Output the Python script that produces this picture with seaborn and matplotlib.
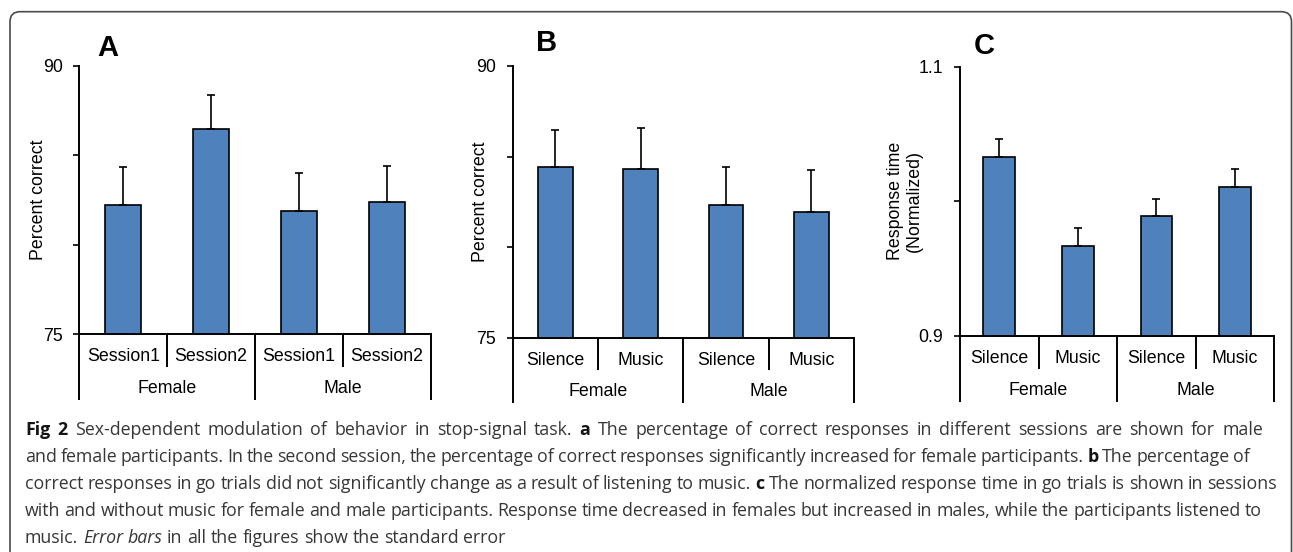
import numpy as np
import pandas as pd
import matplotlib
matplotlib.use("Agg")
import matplotlib.pyplot as plt
import matplotlib.transforms as mtransforms
from matplotlib.patches import FancyBboxPatch
import seaborn as sns

# ---- data -------------------------------------------------------------
sexes = ["Female", "Female", "Male", "Male"]
sessions = ["Session1", "Session2", "Session1", "Session2"]
conditions = ["Silence", "Music", "Silence", "Music"]

pct_by_session = [82.25, 86.5, 81.9, 82.4]
pct_by_session_se = [2.1, 1.9, 2.1, 2.0]

pct_by_condition = [84.45, 84.3, 82.35, 81.95]
pct_by_condition_se = [2.0, 2.25, 2.05, 2.3]

rt_by_condition = [1.033, 0.967, 0.989, 1.011]
rt_by_condition_se = [0.013, 0.013, 0.013, 0.0128]

# ---- style ------------------------------------------------------------
sns.set_theme(style="white")
plt.rcParams["font.family"] = ["Liberation Sans", "DejaVu Sans"]

W, H, DPI = 1293, 552, 100
BAR_COLOR = "#4F81BD"
FS = 12.8

fig = plt.figure(figsize=(W / DPI, H / DPI), dpi=DPI)
fig.patch.set_facecolor("white")


def px_axes(left, right, top, bottom):
    return fig.add_axes([left / W, 1 - bottom / H, (right - left) / W, (bottom - top) / H])


def panel(ax, sub_labels, values, errors, ylim, yticks, yticklabels, ylabel, ylabel_x, letter, letter_xy):
    cells = [f"{s} {c}" for s, c in zip(sexes, sub_labels)]
    df = pd.DataFrame({"cell": cells, "value": values})
    sns.barplot(data=df, x="cell", y="value", order=cells, color=BAR_COLOR,
                saturation=1, width=0.405, errorbar=None, edgecolor="black",
                linewidth=1.2, ax=ax)
    xs = np.arange(len(values))
    ax.errorbar(xs, values, yerr=[np.zeros(len(errors)), errors], fmt="none",
                ecolor="black", elinewidth=1.2, capsize=3.2, capthick=1.2, zorder=3)
    ax.set_xlim(-0.5, len(values) - 0.5)
    ax.set_ylim(*ylim)
    ax.set_yticks(yticks)
    ax.set_yticklabels(yticklabels, fontsize=FS)
    ax.set_xticks([])
    ax.set_xlabel("")
    ax.set_ylabel("")
    for side in ("top", "right"):
        ax.spines[side].set_visible(False)
    for side in ("left", "bottom"):
        ax.spines[side].set_color("black")
        ax.spines[side].set_linewidth(1.4)
    ax.tick_params(axis="y", direction="out", length=4, width=1.2, color="black",
                   pad=8, left=True, labelcolor="black")
    ax.set_facecolor("none")

    # category table under the axis
    h_px = ax.get_position().height * H
    trans = mtransforms.blended_transform_factory(ax.transData, ax.transAxes)
    short, long_ = 32.5 / h_px, 65.7 / h_px
    for b in np.arange(-0.5, len(values), 1.0):
        depth = long_ if int(b + 0.5) % 2 == 0 else short
        ax.plot([b, b], [0, -depth], transform=trans, color="black", lw=1.4,
                clip_on=False, solid_capstyle="butt")
    for x, lab in zip(xs, sub_labels):
        ax.text(x, -22.4 / h_px, lab, transform=trans, ha="center", va="center",
                fontsize=FS, color="black")
    for x, lab in zip([0.5, 2.5], ["Female", "Male"]):
        ax.text(x, -54 / h_px, lab, transform=trans, ha="center", va="center",
                fontsize=FS, color="black")

    w_px = ax.get_position().width * W
    ax.text(ylabel_x / w_px, 0.5, ylabel, transform=ax.transAxes, rotation=90,
            ha="center", va="center", fontsize=FS, color="black", linespacing=1.15)
    fig.text(letter_xy[0] / W, 1 - letter_xy[1] / H, letter, ha="center", va="center",
             fontsize=21, fontweight="bold", color="black")


axA = px_axes(79.3, 431, 66, 334.3)
panel(axA, sessions, pct_by_session, pct_by_session_se, (75, 90), [75, 80, 85, 90],
      ["75", "", "", "90"], "Percent correct", -41, "A", (107.5, 48))

axB = px_axes(512.7, 854, 66, 337.7)
panel(axB, conditions, pct_by_condition, pct_by_condition_se, (75, 90), [75, 80, 85, 90],
      ["75", "", "", "90"], "Percent correct", -32.5, "B", (546.5, 43))

axC = px_axes(960, 1274.3, 66.7, 336)
panel(axC, conditions, rt_by_condition, rt_by_condition_se, (0.9, 1.1), [0.9, 1.0, 1.1],
      ["0.9", "", "1.1"], "Response time\n(Normalized)", -55, "C", (984, 46))

# ---- caption ----------------------------------------------------------
CAP_FONT = "Open Sans"
CAP_FS = 12.75
CAP_COLOR = "#363636"
renderer = fig.canvas.get_renderer()


def text_width(s, weight="normal", style="normal"):
    t = fig.text(0, 0, s, fontfamily=CAP_FONT, fontsize=CAP_FS, fontweight=weight, fontstyle=style)
    w = t.get_window_extent(renderer).width
    t.remove()
    return w


space_w = text_width("a a") - text_width("aa")

caption = [
    [("Fig 2", "bold", "normal"), ("Sex-dependent modulation of behavior in stop-signal task.", "normal", "normal"),
     ("a", "bold", "normal"), ("The percentage of correct responses in different sessions are shown for male", "normal", "normal")],
    [("and female participants. In the second session, the percentage of correct responses significantly increased for female participants.", "normal", "normal"),
     ("b", "bold", "normal"), ("The percentage of", "normal", "normal")],
    [("correct responses in go trials did not significantly change as a result of listening to music.", "normal", "normal"),
     ("c", "bold", "normal"), ("The normalized response time in go trials is shown in sessions", "normal", "normal")],
    [("with and without music for female and male participants. Response time decreased in females but increased in males, while the participants listened to", "normal", "normal")],
    [("music.", "normal", "normal"), ("Error bars", "normal", "italic"), ("in all the figures show the standard error", "normal", "normal")],
]
# right edge of each typeset line (None = natural spacing)
line_ends = [1263, 1250, 1277, 1262, None]

CAP_LEFT = 25.0
baseline0, line_step = 435.0, 27.1
for i, (segs, end) in enumerate(zip(caption, line_ends)):
    words = []
    for s, weight, style in segs:
        for wd in s.split(" "):
            words.append((wd, weight, style))
    widths = [text_width(wd, wt, st) for wd, wt, st in words]
    gap = space_w
    if end is not None and len(words) > 1:
        gap = max((end - CAP_LEFT - sum(widths)) / (len(words) - 1), 0.6 * space_w)
    x = CAP_LEFT
    y = 1 - (baseline0 + i * line_step) / H
    for (wd, weight, style), w in zip(words, widths):
        color = "#141414" if weight == "bold" else CAP_COLOR
        fig.text(x / W, y, wd, fontfamily=CAP_FONT, fontsize=CAP_FS, fontweight=weight,
                 fontstyle=style, color=color, ha="left", va="baseline")
        x += w + gap

# ---- rounded frame ----------------------------------------------------
frame = FancyBboxPatch((10 / DPI, -0.5), (1291.5 - 10) / DPI, (H - 11.7) / DPI + 0.5,
                       boxstyle="round,pad=0,rounding_size=0.1",
                       transform=fig.dpi_scale_trans, facecolor="none",
                       edgecolor="#4a4a4a", linewidth=1.2, clip_on=False)
fig.add_artist(frame)

fig.savefig("out.png", dpi=DPI, facecolor="white")
